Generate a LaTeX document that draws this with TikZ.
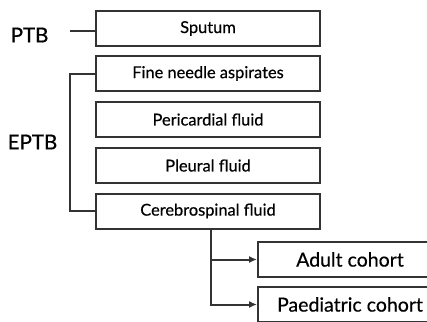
\documentclass[tikz,border=0pt]{standalone}
\usepackage{fontspec}
\setmainfont{Lato}
\usetikzlibrary{arrows.meta}
\definecolor{linec}{HTML}{333333}
\tikzset{
  box/.style={draw=linec, line width=2pt, minimum width=224pt, minimum height=35pt, inner sep=0pt, font=\fontsize{16.4}{19}\selectfont\addfontfeature{FakeBold=0.5}},
  cbox/.style={box, minimum width=184pt, font=\fontsize{19.5}{22}\selectfont\addfontfeature{FakeBold=0.5}},
  lbl/.style={inner sep=0pt, font=\fontsize{20.5}{24}\selectfont\addfontfeature{FakeBold=0.7}},
  conn/.style={draw=linec, line width=2pt},
  arr/.style={conn, -{Latex[length=8pt,width=7pt]}}
}
\begin{document}
\begin{tikzpicture}[x=1pt,y=-1pt]
\useasboundingbox (0,0) rectangle (427,321);
\clip (0,0) rectangle (427,321);
\node[box] (sputum) at (208,28.5) {Sputum};
\node[box] (fine) at (208,73.5) {Fine needle aspirates};
\node[box] (peri) at (208,119.5) {Pericardial fluid};
\node[box] (pleu) at (208,165.5) {Pleural fluid};
\node[box] (csf) at (208,211) {Cerebrospinal fluid};
\node[cbox] (adult) at (350,259.5) {Adult cohort};
\node[cbox] (paed) at (350,304.5) {Paediatric cohort};
\node[lbl] (ptb) at (29.5,35) {PTB};
\node[lbl] (eptb) at (32.5,142) {EPTB};
\coordinate (ptbend) at (70,31);
\draw[conn] (ptbend) -- (ptbend -| sputum.west);
\draw[conn] (fine.west) -- ++(-25,0) |- (csf.west);
\draw[arr] ([xshift=3pt]csf.south) |- (adult.west);
\draw[arr] ([xshift=3pt]csf.south) |- (paed.west);
\end{tikzpicture}
\end{document}
